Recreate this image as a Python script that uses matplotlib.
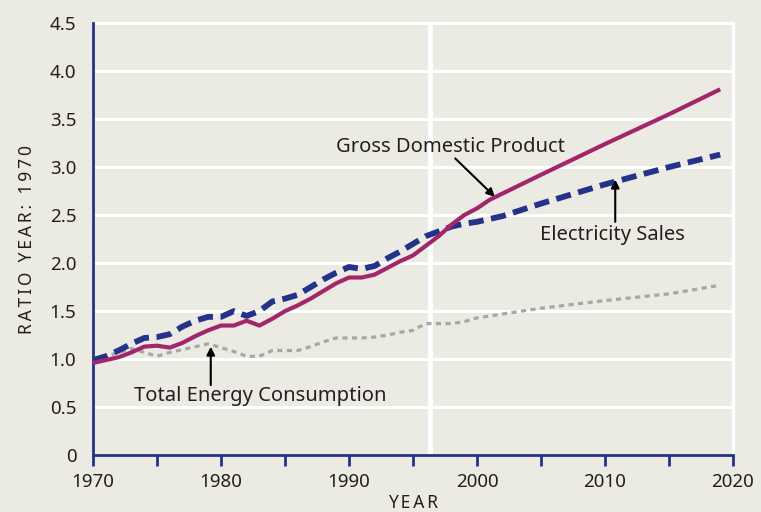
import matplotlib.pyplot as plt
from matplotlib.ticker import FixedLocator, FuncFormatter

plt.rcParams['font.family'] = ['Noto Sans', 'DejaVu Sans']

# ratio to 1970 values
gdp_years = [1970, 1971, 1972, 1973, 1974, 1975, 1976, 1977, 1978, 1979, 1980, 1981, 1982, 1983,
             1984, 1985, 1986, 1987, 1988, 1989, 1990, 1991, 1992, 1993, 1994, 1995, 1996, 1997,
             1998, 1999, 2000, 2001, 2005, 2010, 2015, 2019]
gdp = [0.96, 0.99, 1.02, 1.07, 1.13, 1.14, 1.12, 1.17, 1.24, 1.30, 1.35, 1.35, 1.40, 1.35,
       1.42, 1.50, 1.56, 1.63, 1.71, 1.79, 1.85, 1.85, 1.88, 1.95, 2.02, 2.08, 2.18, 2.28,
       2.40, 2.50, 2.57, 2.66, 2.92, 3.24, 3.55, 3.81]

elec_years = [1970, 1971, 1972, 1973, 1974, 1975, 1976, 1977, 1978, 1979, 1980, 1981, 1982, 1983,
              1984, 1985, 1986, 1987, 1988, 1989, 1990, 1991, 1992, 1993, 1994, 1995, 1996, 1997,
              1998, 1999, 2000, 2001, 2002, 2005, 2010, 2015, 2019]
elec = [0.99, 1.03, 1.09, 1.16, 1.22, 1.23, 1.26, 1.34, 1.40, 1.44, 1.44, 1.50, 1.45, 1.50,
        1.60, 1.63, 1.67, 1.75, 1.83, 1.90, 1.96, 1.94, 1.97, 2.05, 2.12, 2.20, 2.28, 2.33,
        2.38, 2.41, 2.43, 2.46, 2.49, 2.62, 2.82, 3.00, 3.13]

energy_years = [1970, 1971, 1972, 1973, 1974, 1975, 1976, 1977, 1978, 1979, 1980, 1981, 1982, 1983,
                1984, 1985, 1986, 1987, 1988, 1989, 1990, 1991, 1992, 1993, 1994, 1995, 1996, 1997,
                1998, 1999, 2000, 2005, 2010, 2015, 2019]
energy = [1.00, 1.03, 1.07, 1.11, 1.07, 1.03, 1.07, 1.10, 1.13, 1.16, 1.12, 1.08, 1.03, 1.03,
          1.09, 1.09, 1.09, 1.13, 1.18, 1.22, 1.22, 1.22, 1.23, 1.25, 1.28, 1.30, 1.37, 1.37,
          1.37, 1.39, 1.43, 1.53, 1.61, 1.68, 1.77]

bg = '#ebebe3'
navy = '#25328a'
ink = '#231f20'
ts = '\u2009'

fig = plt.figure(figsize=(7.61, 5.12), dpi=100, facecolor=bg)
ax = fig.add_axes([0.1222, 0.111, 0.841, 0.844])
ax.set_facecolor(bg)

# white grid
for v in [0.5, 1.0, 1.5, 2.0, 2.5, 3.0, 3.5, 4.0, 4.5]:
    ax.axhline(v, color='white', lw=2.2, zorder=1, clip_on=False)
ax.axvline(1996.3, color='white', lw=3.5, zorder=1)
ax.axvline(2020, color='white', lw=2.5, zorder=1, clip_on=False)

ax.plot(energy_years, energy, color='#a6a6ab', lw=2.3, dashes=(1.6, 1.4), zorder=2)
ax.plot(elec_years, elec, color=navy, lw=4.2, dashes=(2.6, 1.3), zorder=3)
ax.plot(gdp_years, gdp, color='#a3266a', lw=3.0, zorder=4, solid_capstyle='butt')

ax.set_xlim(1970, 2020)
ax.set_ylim(0, 4.5)

for s in ['top', 'right']:
    ax.spines[s].set_visible(False)
for s in ['left', 'bottom']:
    ax.spines[s].set_color(navy)
    ax.spines[s].set_linewidth(2)

ax.xaxis.set_major_locator(FixedLocator([1970, 1975, 1980, 1985, 1990, 1995, 2000, 2005, 2010, 2015, 2020]))
ax.xaxis.set_major_formatter(FuncFormatter(lambda v, p: '%d' % v if int(v) % 10 == 0 else ''))
ax.yaxis.set_major_locator(FixedLocator([0, 0.5, 1.0, 1.5, 2.0, 2.5, 3.0, 3.5, 4.0, 4.5]))
ax.yaxis.set_major_formatter(FuncFormatter(lambda v, p: '0' if v == 0 else '%.1f' % v))
ax.tick_params(axis='x', direction='out', length=8, width=2, color=navy,
               labelsize=13.5, labelcolor=ink, pad=5)
ax.tick_params(axis='y', length=0, labelsize=13.5, labelcolor=ink, pad=12)

ax.set_ylabel(ts.join('RATIO YEAR: 1970'), fontsize=12.5, color=ink, labelpad=10)
ax.set_xlabel(ts.join('YEAR'), fontsize=12.5, color=ink, labelpad=2)

arrow = dict(arrowstyle='-|>', color='black', lw=1.5, mutation_scale=12, shrinkA=0, shrinkB=0)
ax.text(1997.9, 3.21, 'Gross Domestic Product', ha='center', va='center', fontsize=14.5, color=ink)
ax.annotate('', xy=(2001.4, 2.69), xytext=(1998.3, 3.09), arrowprops=arrow)
ax.text(2010.6, 2.29, 'Electricity Sales', ha='center', va='center', fontsize=14.5, color=ink)
ax.annotate('', xy=(2010.8, 2.87), xytext=(2010.8, 2.43), arrowprops=arrow)
ax.text(1983.1, 0.62, 'Total Energy Consumption', ha='center', va='center', fontsize=14.5, color=ink)
ax.annotate('', xy=(1979.2, 1.13), xytext=(1979.2, 0.73), arrowprops=arrow)

plt.savefig('out.png', dpi=100, facecolor=bg)
